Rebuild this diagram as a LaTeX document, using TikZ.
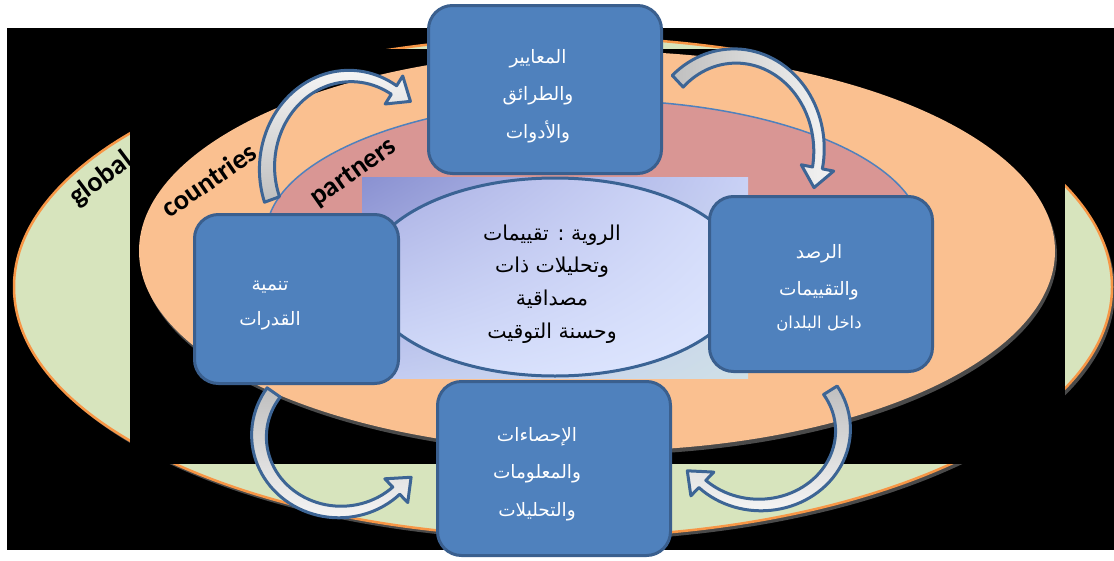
\documentclass[tikz,border=0pt]{standalone}
\usepackage{fontspec}
\usetikzlibrary{shapes.geometric,shadings}
\TeXXeTstate=1
\newfontfamily\arabicfont[Script=Arabic]{DejaVu Sans}
\newfontfamily\labelfont{Carlito}
\definecolor{boxfill}{HTML}{4F81BD}
\definecolor{boxborder}{HTML}{3A5F8E}
\definecolor{greenfill}{HTML}{D7E4BD}
\definecolor{orangeline}{HTML}{F79646}
\definecolor{orangefill}{HTML}{FAC090}
\definecolor{pinkfill}{HTML}{D99694}
\definecolor{shadowgray}{HTML}{4A4A4A}
\definecolor{arrowborder}{HTML}{3D6595}
\definecolor{arrowgray}{HTML}{BFBFBF}
\definecolor{arrowwhite}{HTML}{F4F4F4}
\definecolor{rectTL}{HTML}{8A91D1}
\definecolor{rectTR}{HTML}{C9D1F6}
\definecolor{rectBL}{HTML}{C3CBF3}
\definecolor{rectBR}{HTML}{CFE0E6}
\definecolor{ellTL}{HTML}{A7ADE2}
\definecolor{ellTR}{HTML}{D5DDFB}
\definecolor{ellBL}{HTML}{D3DCFA}
\definecolor{ellBR}{HTML}{E0E8FF}
\definecolor{ellborder}{HTML}{3A6394}
\newcommand\artxt[1]{\beginR #1\endR}
\def\wtail{8}
\def\whead{5}
\def\headhalf{16.5}
\def\headlen{20}
\newcommand\blockarc[7]{%
  \pgfmathsetmacro\bsg{ifthenelse(#6>#5,1,-1)}%
  \pgfmathsetmacro\btx{-(#3)*sin(#6)*\bsg}%
  \pgfmathsetmacro\bty{(#4)*cos(#6)*\bsg}%
  \pgfmathsetmacro\btn{sqrt(\btx*\btx+\bty*\bty)}%
  \pgfmathsetmacro\tipx{#1+(#3)*cos(#6)+\headlen*\btx/\btn}%
  \pgfmathsetmacro\tipy{#2+(#4)*sin(#6)+\headlen*\bty/\btn}%
  \shadedraw[arrowshape,#7] plot[domain=#5:#6,samples=50,variable=\t] ({#1+(#3+\wtail+(\whead-\wtail)*(\t-(#5))/((#6)-(#5)))*cos(\t)},{#2+(#4+\wtail+(\whead-\wtail)*(\t-(#5))/((#6)-(#5)))*sin(\t)}) -- ({#1+(#3+\headhalf)*cos(#6)},{#2+(#4+\headhalf)*sin(#6)}) -- (\tipx,\tipy) -- ({#1+(#3-\headhalf)*cos(#6)},{#2+(#4-\headhalf)*sin(#6)}) -- plot[domain=#6:#5,samples=50,variable=\t] ({#1+(#3-\wtail-(\whead-\wtail)*(\t-(#5))/((#6)-(#5)))*cos(\t)},{#2+(#4-\wtail-(\whead-\wtail)*(\t-(#5))/((#6)-(#5)))*sin(\t)}) -- cycle;%
}
\begin{document}
\begin{tikzpicture}[x=1pt,y=-1pt,
  box/.style={draw=boxborder,line width=3pt,fill=boxfill,rounded corners=24pt,inner sep=0pt},
  boxtext/.style={text=white,align=center,inner sep=0pt,font=\arabicfont\fontsize{18.5}{37.5}\selectfont},
  ringlabel/.style={font=\labelfont\bfseries\fontsize{28}{30}\selectfont,inner sep=0pt},
  arrowshape/.style={draw=arrowborder,line width=3pt,line join=round}]
\useasboundingbox (0,0) rectangle (1114,560);
\fill[white] (0,0) rectangle (1114,560);
% outer black frame
\fill[black] (7,28) rectangle (1114,550);
% global ring
\fill[shadowgray] (566,291) ellipse [x radius=549, y radius=250];
\draw[fill=greenfill,draw=orangeline,line width=2.5pt] (563,287) ellipse [x radius=549, y radius=250];
\node[ringlabel,rotate=37] (lglobal) at (101,179) {global};
% inner black
\fill[black] (130,49) rectangle (1065,464);
% countries ring
\fill[shadowgray] (599,255) ellipse [x radius=458, y radius=200];
\fill[orangefill] (597,251) ellipse [x radius=458, y radius=200];
\node[ringlabel,rotate=34.5] (lcountries) at (209,180) {countries};
% partners ring
\draw[fill=pinkfill,draw=boxfill,line width=1.5pt] (594,235) ellipse [x radius=328, y radius=135];
\node[ringlabel,rotate=35] (lpartners) at (354,173) {partners};
% centre
\shade[upper left=rectTL,upper right=rectTR,lower left=rectBL,lower right=rectBR] (362,177) rectangle (748,378);
\node[ellipse,draw=ellborder,line width=3pt,minimum width=380pt,minimum height=198pt,inner sep=0pt,
      upper left=ellTL,upper right=ellTR,lower left=ellBL,lower right=ellBR] (vision) at (555,277) {};
\node[align=center,inner sep=0pt,font=\arabicfont\fontsize{20.5}{32.7}\selectfont] (tvision) at (552,284)
  {\artxt{الروية :  تقييمات}\\ \artxt{وتحليلات ذات}\\ \artxt{مصداقية}\\ \artxt{وحسنة التوقيت}};
% boxes
\node[box,minimum width=233pt,minimum height=168pt] (btop) at (545,89.5) {};
\node[box,minimum width=223pt,minimum height=175pt] (bright) at (821,284) {};
\node[box,minimum width=233pt,minimum height=174pt] (bbottom) at (554,468.5) {};
\node[box,minimum width=204pt,minimum height=169pt] (bleft) at (296.5,299) {};
\node[boxtext] (ttop) at (538,96) {\artxt{المعايير}\\ \artxt{والطرائق}\\ \artxt{والأدوات}};
\node[boxtext] (tright) at (819,272) {\artxt{الرصد}\\ \artxt{والتقييمات}};
\node[boxtext,font=\arabicfont\fontsize{16.5}{20}\selectfont] (tright2) at (819,324) {\artxt{داخل البلدان}};
\node[boxtext] (tbottom) at (537,474) {\artxt{الإحصاءات}\\ \artxt{والمعلومات}\\ \artxt{والتحليلات}};
\node[boxtext,font=\arabicfont\fontsize{18.5}{35}\selectfont] (tleft) at (270,306) {\artxt{تنمية}\\ \artxt{القدرات}};
% curved block arrows
\blockarc{350}{168}{83}{92}{160}{302}{top color=arrowwhite,bottom color=arrowgray}
\blockarc{735}{150}{84}{94}{227}{371}{left color=arrowgray,right color=arrowwhite}
\blockarc{760}{430}{83}{75}{-32}{134}{top color=arrowgray,bottom color=arrowwhite}
\blockarc{340}{436}{81}{76}{215}{46}{top color=arrowgray,bottom color=arrowwhite}
\end{tikzpicture}
\end{document}
